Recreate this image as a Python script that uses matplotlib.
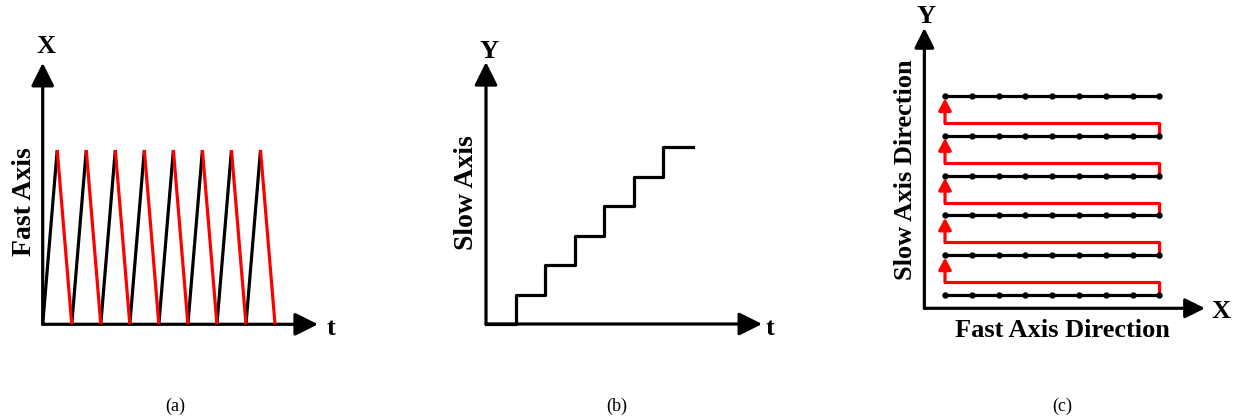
import matplotlib
matplotlib.use("Agg")
import matplotlib.pyplot as plt

plt.rcParams['font.family'] = ['Liberation Serif', 'DejaVu Serif']

# === Data === #
# (a) fast axis: triangular scan, 8 cycles
fast_t = [0, 0.5, 1, 1.5, 2, 2.5, 3, 3.5, 4, 4.5, 5, 5.5, 6, 6.5, 7, 7.5, 8]
fast_x = [0, 1, 0, 1, 0, 1, 0, 1, 0, 1, 0, 1, 0, 1, 0, 1, 0]

# (b) slow axis: staircase
slow_t = [0, 1, 2, 3, 4, 5, 6, 7]
slow_y = [0, 1, 2, 3, 4, 5, 6, 6]

# (c) raster grid
grid_cols = [0, 1, 2, 3, 4, 5, 6, 7, 8]
grid_rows = [0, 1, 2, 3, 4, 5]
return_offset = 0.32

W, H = 1233, 416
fig = plt.figure(figsize=(W / 100, H / 100), dpi=100)

RED = '#ff0000'
LW = 2.3


def panel(x0, y0, x1, y1, ox, oy, sx, sy):
    # pixel box, pixel origin, pixels per data unit
    ax = fig.add_axes([x0 / W, 1 - y1 / H, (x1 - x0) / W, (y1 - y0) / H])
    ax.set_xlim((x0 - ox) / sx, (x1 - ox) / sx)
    ax.set_ylim((oy - y1) / sy, (oy - y0) / sy)
    ax.axis('off')
    return ax


def arrow(ax, start, tip, color='k', lw=LW, hl=0.7, hw=0.35, ms=20):
    ax.annotate('', xy=tip, xytext=start,
                arrowprops=dict(arrowstyle=f'-|>,head_length={hl},head_width={hw}',
                                lw=lw, color=color, shrinkA=0, shrinkB=0,
                                mutation_scale=ms))


def ftext(px, py, s, **kw):
    fig.text(px / W, 1 - py / H, s, **kw)


bold = dict(fontsize=19, fontweight='bold')
side = dict(fontsize=20, fontweight='bold')

# === (a) === #
ax_a = panel(0, 30, 340, 345, 42.7, 324.3, 29.04, 174.3)
arrow(ax_a, (0, 0), (0, 1.5))
arrow(ax_a, (0, 0), (9.48, 0))
for i in range(len(fast_t) - 1):
    rising = fast_x[i + 1] > fast_x[i]
    ax_a.plot(fast_t[i:i + 2], fast_x[i:i + 2], color='k' if rising else RED,
              lw=LW, zorder=2 if rising else 3, solid_capstyle='butt')

ftext(46, 53.3, 'X', ha='center', va='baseline', **bold)
ftext(330.5, 335, 't', ha='center', va='baseline', **bold)
ftext(30.7, 202, 'Fast Axis', rotation=90, ha='center', va='baseline',
      rotation_mode='anchor', **side)
ftext(175, 410.5, '(a)', ha='center', va='baseline', fontsize=13)

# === (b) === #
ax_b = panel(440, 30, 790, 345, 486, 324, 29.5, 29.5)
arrow(ax_b, (0, 0), (0, 8.88))
arrow(ax_b, (0, 0), (9.36, 0))
ax_b.step(slow_t, slow_y, where='post', color='k', lw=LW)

ftext(489, 58.3, 'Y', ha='center', va='baseline', **bold)
ftext(770, 335, 't', ha='center', va='baseline', **bold)
ftext(473, 192.5, 'Slow Axis', rotation=90, ha='center', va='baseline',
      rotation_mode='anchor', **side)
ftext(617, 410.5, '(b)', ha='center', va='baseline', fontsize=13)

# === (c) === #
ax_c = panel(880, 0, 1233, 345, 945, 295, 26.8, 39.8)
x_org, y_org = -0.77, -0.334
arrow(ax_c, (x_org, y_org), (x_org, 6.71), hl=0.6, hw=0.3)
arrow(ax_c, (x_org, y_org), (9.70, y_org), hl=0.6, hw=0.3)

first, last = grid_cols[0], grid_cols[-1]
for k, r in enumerate(grid_rows[:-1]):
    ry = r + return_offset
    nxt = grid_rows[k + 1]
    ax_c.plot([last, last, first], [r, ry, ry], color=RED, lw=LW, zorder=2)
    arrow(ax_c, (first, ry), (first, nxt - 0.06), color=RED, lw=LW,
          hl=0.5, hw=0.27, ms=14)

for r in grid_rows:
    ax_c.plot(grid_cols, [r] * len(grid_cols), color='k', lw=LW, marker='o',
              markersize=4.6, markeredgewidth=0, zorder=3)

ftext(926.5, 23.3, 'Y', ha='center', va='baseline', **bold)
ftext(1221, 318, 'X', ha='center', va='baseline', **bold)
ftext(911.5, 170, 'Slow Axis Direction', rotation=90, ha='center',
      va='baseline', rotation_mode='anchor', **bold)
ftext(1062, 336.7, 'Fast Axis Direction', ha='center', va='baseline', **bold)
ftext(1062, 410.5, '(c)', ha='center', va='baseline', fontsize=13)

fig.savefig('out.png', dpi=100)
